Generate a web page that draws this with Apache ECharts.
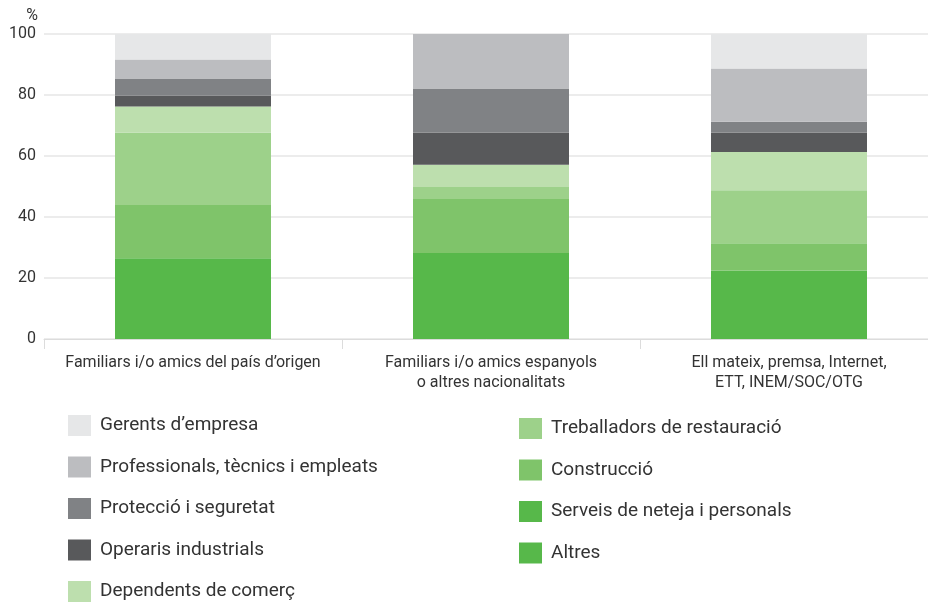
<!DOCTYPE html>
<html>
<head>
<meta charset="utf-8">
<script src="https://cdn.jsdelivr.net/npm/echarts@6/dist/echarts.min.js"></script>
<style>
  html, body { margin: 0; padding: 0; background: #fff; }
  #chart { width: 928px; height: 602px; }
</style>
</head>
<body>
<div id="chart"></div>
<script>
// categories (x axis)
var categories = [
    'Familiars i/o amics del país d’origen',
    'Familiars i/o amics espanyols\no altres nacionalitats',
    'Ell mateix, premsa, Internet,\nETT, INEM/SOC/OTG'
];

// values in %
var gerents        = [8.4, 0,    11.3];
var professionals  = [6.2, 17.9, 17.5];
var proteccio      = [5.6, 14.5, 3.6];
var operaris       = [3.6, 10.5, 6.3];
var dependents     = [8.6, 7.3,  12.5];
var treballadors   = [23.7, 3.9, 17.4];
var construccio    = [17.4, 17.7, 8.9];
var serveis        = [26.5, 28.2, 22.5];
// same colour as "Serveis", can't be told apart in the picture
var altres         = [null, null, null];

var yTicks = [0, 20, 40, 60, 80, 100];

var names = [
    'Gerents d’empresa',
    'Professionals, tècnics i empleats',
    'Protecció i seguretat',
    'Operaris industrials',
    'Dependents de comerç',
    'Treballadors de restauració',
    'Construcció',
    'Serveis de neteja i personals',
    'Altres'
];
var colors = ['#e6e7e8', '#bcbdc0', '#808285', '#58595b', '#bddfae', '#9dd18a', '#7fc46a', '#57b84a', '#57b84a'];
var values = [gerents, professionals, proteccio, operaris, dependents, treballadors, construccio, serveis, altres];

// stack from bottom to top
var series = [];
for (var i = names.length - 1; i >= 0; i--) {
    series.push({
        name: names[i],
        type: 'bar',
        stack: 'total',
        barWidth: 156,
        itemStyle: { color: colors[i] },
        emphasis: { disabled: true },
        data: values[i]
    });
}

var legendText = { fontFamily: 'Roboto', fontSize: 19, color: '#333', padding: [0, 0, 0, 4] };

var option = {
    animation: false,
    textStyle: { fontFamily: 'Roboto' },
    grid: { left: 44, width: 894, top: 34, height: 305, outerBoundsMode: 'none' },
    legend: [
        {
            orient: 'vertical',
            left: 68, top: 415, height: 220, padding: 0,
            icon: 'rect', itemWidth: 23, itemHeight: 21, itemGap: 20.5,
            selectedMode: false,
            textStyle: legendText,
            data: names.slice(0, 5)
        },
        {
            orient: 'vertical',
            left: 519, top: 418, height: 220, padding: 0,
            icon: 'rect', itemWidth: 23, itemHeight: 21, itemGap: 20.5,
            selectedMode: false,
            textStyle: legendText,
            data: names.slice(5)
        }
    ],
    xAxis: {
        type: 'category',
        data: categories,
        axisLine: { lineStyle: { color: '#dcdcdc' } },
        axisTick: { show: true, length: 10, lineStyle: { color: '#dcdcdc' } },
        axisLabel: { color: '#333', fontSize: 16, lineHeight: 20, margin: 14, interval: 0 }
    },
    yAxis: {
        type: 'value',
        min: yTicks[0],
        max: yTicks[yTicks.length - 1],
        interval: 20,
        name: '%',
        nameLocation: 'end',
        nameGap: 10,
        nameTextStyle: { color: '#333', fontSize: 16, align: 'right', padding: [0, 6, 0, 0] },
        axisLine: { show: false },
        axisTick: { show: false },
        axisLabel: { color: '#333', fontSize: 16, margin: 8 },
        splitLine: { lineStyle: { color: '#ececec', width: 2 } }
    },
    series: series
};

var myChart = echarts.init(document.getElementById('chart'));
myChart.setOption(option);
</script>
</body>
</html>
